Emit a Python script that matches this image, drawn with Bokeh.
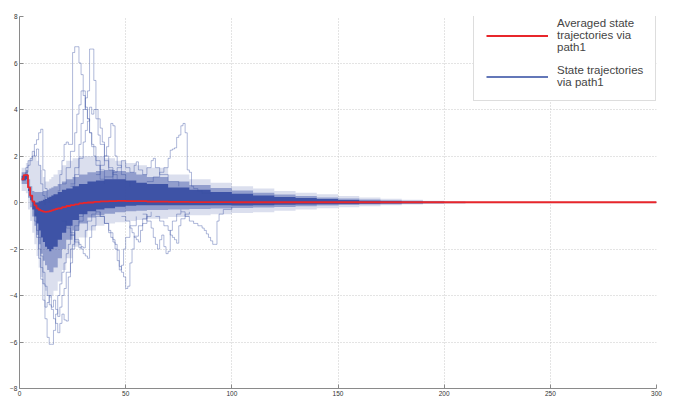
from bokeh.plotting import figure
from bokeh.models import Range1d, Legend, LegendItem, FixedTicker
from bokeh.embed import file_html
from bokeh.resources import INLINE

# ---- data ----
x_ticks = [0, 50, 100, 150, 200, 250, 300]
y_ticks = [-8, -6, -4, -2, 0, 2, 4, 6, 8]

# averaged trajectory (red)
red_x = [1, 2, 3, 4, 5, 6, 7, 8, 9, 10, 11, 12, 13, 14, 15, 16, 17, 18, 20, 22,
         24, 26, 28, 30, 32, 35, 38, 42, 46, 50, 60, 70, 80, 100, 300]
red_y = [1.0, 1.18, 1.18, 0.65, 0.3, 0.05, -0.12, -0.25, -0.32, -0.36, -0.39, -0.4,
         -0.39, -0.37, -0.34, -0.31, -0.28, -0.25, -0.2, -0.15, -0.11, -0.08, -0.04,
         -0.02, 0.0, 0.03, 0.05, 0.06, 0.07, 0.06, 0.04, 0.03, 0.02, 0.01, 0.0]

# envelope of the bundle of state trajectories
band_x = [1, 3, 4, 5, 6, 7, 8, 9, 10, 11, 12, 13, 14, 15, 16, 18, 20, 22, 25, 28, 32,
          36, 40, 45, 50, 55, 60, 70, 80, 90, 100, 110, 120, 130, 140, 150, 160, 170,
          180, 190, 200, 210, 300]
core_up = [1.15, 1.2, 0.6, 0.3, 0.05, 0.0, 0.0, 0.05, 0.08, 0.12, 0.15, 0.2, 0.25, 0.3,
           0.35, 0.45, 0.55, 0.6, 0.7, 0.8, 0.9, 0.95, 1.0, 1.0, 0.95, 0.85, 0.8, 0.65,
           0.55, 0.45, 0.38, 0.3, 0.24, 0.19, 0.15, 0.11, 0.08, 0.06, 0.04, 0.03, 0.02,
           0.01, 0.01]
core_lo = [0.95, 1.0, 0.5, 0.1, -0.3, -0.6, -0.9, -1.2, -1.5, -1.7, -1.9, -2.0, -2.1,
           -2.0, -1.9, -1.6, -1.3, -1.0, -0.75, -0.5, -0.38, -0.3, -0.25, -0.18, -0.14,
           -0.12, -0.12, -0.12, -0.12, -0.12, -0.13, -0.12, -0.1, -0.09, -0.08, -0.06,
           -0.05, -0.04, -0.03, -0.02, -0.02, -0.01, -0.01]
mid_up = [1.3, 1.4, 1.0, 0.7, 0.5, 0.45, 0.45, 0.45, 0.45, 0.5, 0.5, 0.55, 0.6, 0.65,
          0.7, 0.8, 0.9, 1.0, 1.1, 1.2, 1.3, 1.35, 1.4, 1.35, 1.3, 1.2, 1.1, 0.9, 0.75,
          0.62, 0.52, 0.42, 0.34, 0.28, 0.22, 0.17, 0.13, 0.1, 0.07, 0.05, 0.03, 0.02,
          0.01]
mid_lo = [0.8, 0.8, 0.2, -0.2, -0.6, -1.0, -1.4, -1.8, -2.2, -2.5, -2.7, -2.9, -3.0,
          -3.0, -2.8, -2.4, -2.0, -1.6, -1.2, -0.9, -0.65, -0.55, -0.48, -0.42, -0.38,
          -0.35, -0.32, -0.3, -0.28, -0.26, -0.24, -0.22, -0.19, -0.16, -0.13, -0.11,
          -0.09, -0.07, -0.05, -0.04, -0.03, -0.02, -0.01]
halo_up = [1.5, 1.7, 1.8, 1.9, 2.0, 2.0, 1.8, 1.6, 1.4, 1.1, 0.9, 0.9, 1.0, 1.1, 1.2,
           1.4, 1.6, 1.8, 1.9, 2.0, 2.0, 2.0, 1.9, 1.8, 1.7, 1.6, 1.5, 1.2, 1.0, 0.85,
           0.7, 0.6, 0.5, 0.42, 0.35, 0.28, 0.22, 0.16, 0.12, 0.08, 0.05, 0.03, 0.02]
halo_lo = [0.5, 0.4, -0.3, -0.8, -1.3, -1.8, -2.3, -2.8, -3.2, -3.5, -3.8, -4.0, -4.1,
           -4.0, -3.8, -3.4, -2.9, -2.4, -1.9, -1.5, -1.2, -1.0, -0.9, -0.85, -0.8,
           -0.75, -0.7, -0.62, -0.55, -0.5, -0.45, -0.42, -0.36, -0.3, -0.25, -0.2,
           -0.16, -0.12, -0.09, -0.06, -0.04, -0.03, -0.02]

# individual outlying state trajectories
t01_x = [18, 19, 20, 21, 22, 23, 24, 25, 26, 27, 28, 29, 30, 31, 32, 33, 34, 35, 36, 38, 40]
t01_y = [0.5, 1.2, 1.8, 2.5, 2.6, 2.5, 2.5, 6.45, 6.7, 6.7, 6.0, 5.5, 4.8, 4.1, 3.6, 3.0, 2.5, 2.0, 1.6, 1.0, 0.8]
t02_x = [24, 26, 28, 29, 30, 31, 32, 33, 34, 35, 36, 37, 38, 39, 40, 42, 44, 46]
t02_y = [0.8, 1.5, 2.5, 3.4, 4.0, 4.5, 4.8, 6.6, 6.6, 5.25, 4.0, 3.6, 3.2, 2.6, 2.0, 1.5, 1.2, 1.0]
t03_x = [20, 22, 24, 26, 27, 28, 29, 30, 31, 32, 33, 34, 36, 38, 40]
t03_y = [0.8, 1.5, 2.2, 3.0, 3.8, 4.2, 4.8, 4.6, 4.0, 3.6, 3.0, 2.4, 1.8, 1.4, 1.0]
t04_x = [24, 26, 28, 30, 31, 32, 33, 34, 35, 36, 37, 38, 40, 42, 44]
t04_y = [0.7, 1.2, 1.9, 2.6, 3.1, 3.5, 4.1, 3.8, 4.0, 3.6, 2.9, 2.5, 1.8, 1.4, 1.0]
t05_x = [2, 3, 4, 5, 6, 7, 8, 9, 10, 11, 12, 13, 14]
t05_y = [1.0, 1.5, 1.8, 1.9, 2.0, 2.5, 2.7, 3.0, 3.15, 1.4, 0.6, 0.2, 0.0]
t06_x = [2, 3, 4, 5, 6, 7, 8, 9, 10, 11, 12]
t06_y = [1.1, 1.3, 1.6, 1.8, 2.2, 2.0, 2.3, 1.6, 0.8, 0.3, -0.1]
t07_x = [60, 63, 66, 68, 70, 71, 72, 73, 74, 75, 76, 77, 78, 79, 80, 81, 82, 84, 86, 90]
t07_y = [0.9, 1.1, 1.3, 1.5, 1.9, 2.25, 2.3, 2.35, 2.8, 2.9, 3.3, 3.4, 3.0, 1.4, 1.3, 0.7, 0.6, 0.5, 0.4, 0.35]
t08_x = [36, 38, 40, 41, 42, 43, 44, 45, 46, 48, 50, 52]
t08_y = [1.2, 1.6, 2.0, 2.4, 2.8, 3.4, 3.3, 2.0, 1.6, 1.2, 0.9, 0.7]
t09_x = [40, 44, 46, 48, 50, 52, 54, 55, 56, 58, 60, 62, 63, 64, 66, 70, 75]
t09_y = [1.1, 1.3, 1.5, 1.8, 1.5, 1.3, 1.6, 1.75, 1.4, 1.2, 1.5, 1.8, 1.9, 1.5, 1.2, 0.9, 0.7]
t10_x = [6, 7, 8, 9, 10, 11, 12, 13, 14, 15, 16, 17, 18, 19, 20, 21, 22, 23, 24, 26, 28, 30]
t10_y = [0.0, -0.8, -1.5, -2.4, -3.3, -4.2, -5.0, -5.8, -6.1, -6.1, -5.5, -4.8, -4.0, -3.5, -3.0, -2.6, -2.2, -1.8, -1.4, -1.0, -0.6, -0.4]
t11_x = [7, 8, 9, 10, 11, 12, 13, 14, 15, 16, 17, 18, 19, 20, 21, 22, 23, 24, 25, 26, 28, 30]
t11_y = [-0.5, -1.2, -2.0, -2.8, -3.5, -4.5, -4.3, -4.0, -4.6, -5.0, -5.2, -5.6, -5.2, -4.8, -5.05, -5.1, -3.2, -2.6, -1.8, -1.2, -0.8, -0.5]
t12_x = [8, 9, 10, 11, 12, 13, 14, 15, 16, 17, 18, 19, 20, 21, 22, 24, 26]
t12_y = [-0.8, -1.5, -2.3, -3.0, -3.6, -4.0, -4.4, -4.5, -4.2, -4.6, -4.9, -4.5, -4.0, -3.7, -3.0, -2.0, -1.2]
t13_x = [36, 38, 40, 42, 44, 45, 46, 47, 48, 49, 50, 51, 52, 53, 54, 56, 58, 60]
t13_y = [-0.4, -0.6, -0.9, -1.3, -1.6, -1.8, -2.05, -2.75, -3.0, -3.2, -3.7, -3.6, -2.6, -2.0, -1.45, -1.0, -0.7, -0.5]
t14_x = [22, 24, 26, 28, 29, 30, 31, 32, 33, 34, 36, 38]
t14_y = [-1.0, -1.3, -1.6, -1.8, -2.0, -2.2, -2.3, -2.4, -1.5, -1.0, -0.6, -0.4]
t15_x = [38, 40, 42, 43, 44, 45, 46, 47, 48, 49, 50, 52, 55]
t15_y = [-0.6, -0.9, -1.2, -1.5, -1.7, -2.0, -2.5, -2.9, -2.7, -2.0, -1.5, -1.0, -0.6]
t16_x = [58, 60, 62, 63, 64, 65, 66, 67, 68, 69, 70, 71, 72, 74, 76]
t16_y = [-0.5, -0.8, -1.1, -1.5, -1.8, -2.0, -1.6, -1.4, -1.9, -2.2, -2.1, -1.2, -0.8, -0.5, -0.3]
t17_x = [76, 78, 80, 82, 84, 86, 87, 88, 89, 90, 91, 92, 93, 94, 96, 100]
t17_y = [-0.4, -0.6, -0.8, -0.9, -1.0, -1.1, -1.2, -1.35, -1.5, -1.65, -1.8, -1.8, -0.8, -0.5, -0.3, -0.2]
t18_x = [64, 66, 68, 70, 71, 72, 73, 74, 75, 76, 78, 80]
t18_y = [-0.6, -0.8, -1.0, -1.2, -1.4, -1.5, -1.6, -1.75, -1.0, -0.7, -0.5, -0.4]
t19_x = [48, 50, 52, 53, 54, 55, 56, 57, 58, 60, 62]
t19_y = [-0.6, -0.8, -1.1, -1.3, -1.5, -1.6, -1.7, -1.2, -0.9, -0.6, -0.4]
t20_x = [20, 22, 24, 26, 28, 29, 30, 31, 32, 34, 36]
t20_y = [-0.8, -1.1, -1.4, -1.7, -1.95, -1.9, -1.95, -1.2, -0.8, -0.5, -0.3]

trajectories = [(t01_x, t01_y), (t02_x, t02_y), (t03_x, t03_y), (t04_x, t04_y),
                (t05_x, t05_y), (t06_x, t06_y), (t07_x, t07_y), (t08_x, t08_y),
                (t09_x, t09_y), (t10_x, t10_y), (t11_x, t11_y), (t12_x, t12_y),
                (t13_x, t13_y), (t14_x, t14_y), (t15_x, t15_y), (t16_x, t16_y),
                (t17_x, t17_y), (t18_x, t18_y), (t19_x, t19_y), (t20_x, t20_y)]

legend_labels = ["Averaged state\ntrajectories via\npath1", "State trajectories\nvia path1"]

# ---- figure ----
BLUE = "#3A4FA3"
RED = "#E8262B"
FONT = "Liberation Sans"

p = figure(width=683, height=398, output_backend="svg", toolbar_location=None,
           x_range=Range1d(0, 300), y_range=Range1d(-8, 8),
           min_border_left=19, min_border_right=27, min_border_top=16, min_border_bottom=9)
p.outline_line_color = None
p.background_fill_color = "white"

for ax, ticks in ((p.xaxis[0], x_ticks), (p.yaxis[0], y_ticks)):
    ax.ticker = FixedTicker(ticks=ticks)
    ax.major_tick_in = 4
    ax.major_tick_out = 0
    ax.minor_tick_line_color = None
    ax.axis_line_color = "#8a8a8a"
    ax.major_tick_line_color = "#8a8a8a"
    ax.major_label_text_font = FONT
    ax.major_label_text_font_size = "6.5px"
    ax.major_label_text_color = "#333333"
    ax.major_label_standoff = 2

for g in (p.xgrid[0], p.ygrid[0]):
    g.grid_line_color = "#c8c8c8"
    g.grid_line_dash = "1 2"
    g.grid_line_width = 1

p.varea_step(x=band_x, y1=halo_lo, y2=halo_up, step_mode="after",
             fill_color=BLUE, fill_alpha=0.18)
p.varea_step(x=band_x, y1=mid_lo, y2=mid_up, step_mode="after",
             fill_color=BLUE, fill_alpha=0.45)
p.varea_step(x=band_x, y1=core_lo, y2=core_up, step_mode="after",
             fill_color=BLUE, fill_alpha=0.95)

for tx, ty in trajectories:
    p.step(tx, ty, mode="after", line_color=BLUE, line_alpha=0.4, line_width=1)

red_r = p.step(red_x, red_y, mode="after", line_color=RED, line_width=1.8)
# legend sample for the blue bundle (kept outside the visible range)
blue_key = p.line(x=[-20, -10], y=[20, 20], line_color="#2F4AA0", line_width=1.5)

legend = Legend(items=[LegendItem(label=legend_labels[0], renderers=[red_r]),
                       LegendItem(label=legend_labels[1], renderers=[blue_key])],
                location=(454, 287))
legend.glyph_width = 62
legend.glyph_height = 13
legend.label_standoff = 9
legend.padding = 12
legend.spacing = 11
legend.margin = 0
legend.label_text_font = FONT
legend.label_text_font_size = "11.5px"
legend.label_text_color = "#444444"
legend.label_text_line_height = 1.15
legend.border_line_color = "#bbbbbb"
legend.border_line_width = 1
legend.background_fill_alpha = 1
p.add_layout(legend)

open("out.html", "w").write(file_html(p, INLINE))
